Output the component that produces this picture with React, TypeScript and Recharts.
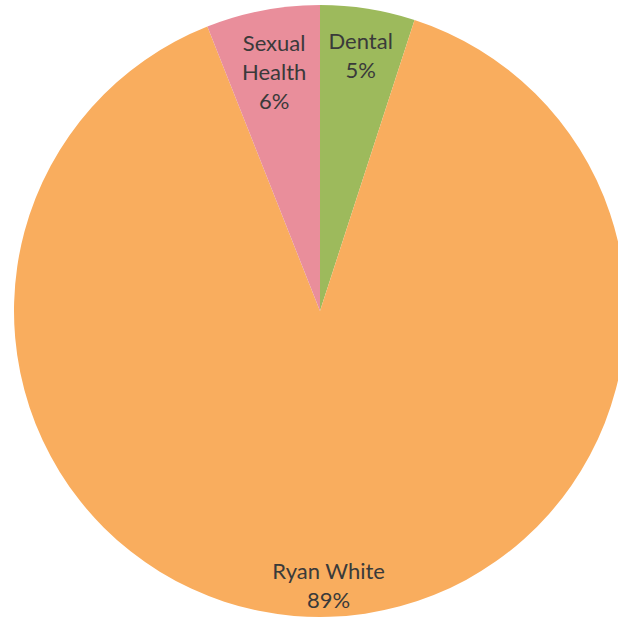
import React from 'react';
import { PieChart, Pie, Cell } from 'recharts';

// clockwise from 12 o'clock
const categories = ['Dental', 'Ryan White', 'Sexual Health'];
const shares = [5, 89, 6];

const COLORS = ['#9DBA5C', '#F9AD5E', '#E98E9B'];
// how far out each label sits, as a fraction of the radius
const LABEL_RADIUS = [0.85, 0.895, 0.8];

const data = categories.map((name, i) => ({ name, value: shares[i] }));

const RADIAN = Math.PI / 180;

const renderLabel = (props: any) => {
  const { cx, cy, midAngle, outerRadius, index, percent, name } = props;
  const r = outerRadius * LABEL_RADIUS[index];
  const x = cx + r * Math.cos(-midAngle * RADIAN);
  const y = cy + r * Math.sin(-midAngle * RADIAN);
  // narrow slices get one word per line
  const words: string[] = percent < 0.1 ? name.split(' ') : [name];
  const lines = [...words, `${Math.round(percent * 100)}%`];
  const lineHeight = 29;
  const top = y - ((lines.length - 1) * lineHeight) / 2;
  return (
    <text
      x={x}
      y={top}
      fill="#3a3a3a"
      textAnchor="middle"
      dominantBaseline="central"
      fontFamily="Lato, 'Noto Sans', sans-serif"
      fontSize={22}
    >
      {lines.map((line, i) => (
        <tspan key={i} x={x} y={top + i * lineHeight}>
          {line}
        </tspan>
      ))}
    </text>
  );
};

const App: React.FC = () => {
  return (
    <div style={{ position: 'absolute', top: 0, left: 0, width: 618, height: 627, background: '#fff' }}>
      <PieChart width={618} height={627} margin={{ top: 0, right: 0, bottom: 0, left: 0 }}>
        <Pie
          data={data}
          dataKey="value"
          nameKey="name"
          cx={320}
          cy={311}
          outerRadius={306}
          startAngle={90}
          endAngle={-270}
          stroke="none"
          labelLine={false}
          label={renderLabel}
          isAnimationActive={false}
        >
          {data.map((_entry, index) => (
            <Cell key={`cell-${index}`} fill={COLORS[index % COLORS.length]} />
          ))}
        </Pie>
      </PieChart>
    </div>
  );
};

export default App;
